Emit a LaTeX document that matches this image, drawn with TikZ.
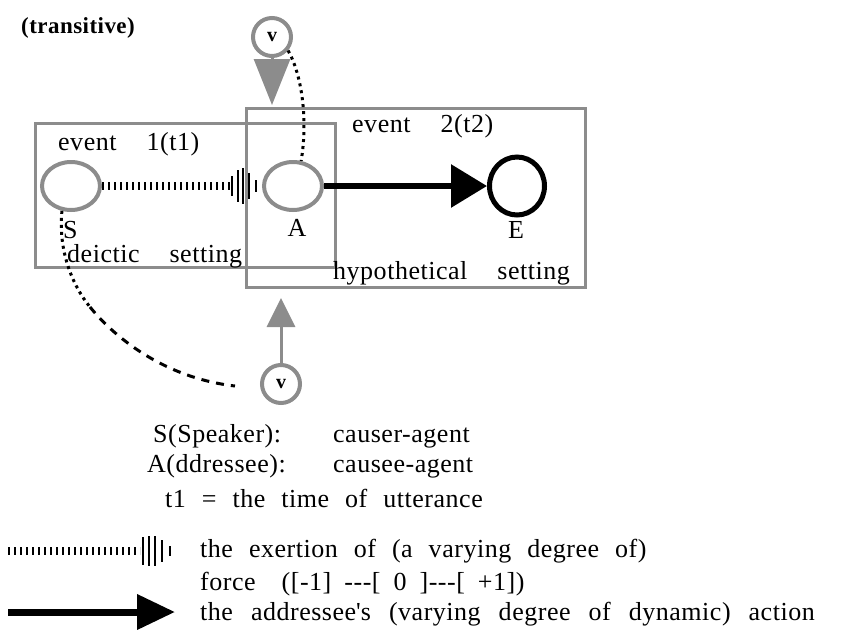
\documentclass[tikz,border=0pt]{standalone}
\usepackage{fontspec}
\setmainfont[LetterSpace=2]{Liberation Serif}
\usepackage{tikz}
\usetikzlibrary{arrows.meta,positioning,shapes.geometric,calc}
\usepackage{xcolor}
\definecolor{screen}{gray}{0.55}
\newcommand{\lblfont}{\fontsize{26}{30}\selectfont\spaceskip 30pt\relax}
\newcommand{\txtfont}{\fontsize{26}{30}\selectfont\spaceskip 16pt\relax}

\begin{document}
\begin{tikzpicture}[x=1pt, y=-1pt,
  lbl/.style={font=\lblfont, inner sep=0pt, anchor=base west},
  txt/.style={font=\txtfont, inner sep=0pt, anchor=base west},
  setting/.style={draw=screen, line width=3pt},
  role/.style={ellipse, draw=screen, line width=4pt, minimum width=58pt, minimum height=48pt},
  goal/.style={ellipse, draw, line width=5pt, minimum width=55pt, minimum height=58pt},
  verb/.style={circle, draw=screen, line width=4pt, minimum size=38pt, inner sep=0pt, font=\fontsize{20}{20}\selectfont\bfseries},
  force/.style={line width=8pt, dash pattern=on 2pt off 4pt},
  bar/.style={line width=2pt},
  action/.style={line width=6pt, -{Triangle[length=36pt,width=42pt]}},
  cue/.style={screen, line width=3pt, -{Triangle[#1]}},
  dotline/.style={line width=3pt, dash pattern=on 3pt off 4pt},
  dashline/.style={line width=3pt, dash pattern=on 8pt off 7pt},
]
\useasboundingbox (0,0) rectangle (845,629);

% Title
\node[txt, font=\fontsize{23}{27}\selectfont\bfseries] (title) at (21,33) {(transitive)};

% Settings
\draw[setting] (35,123) rectangle (335,267);
\draw[setting] (246,108) rectangle (585,287);
\node[lbl] (ev1) at (58,150) {event 1(t1)};
\node[lbl] (ev2) at (352,132) {event 2(t2)};
\node[lbl] (deictic) at (67,262) {deictic setting};
\node[lbl] (hypo) at (333,279) {hypothetical setting};

% Participants
\node[role] (S) at (71,186) {};
\node[role] (A) at (293,186) {};
\node[goal] (E) at (517,186) {};
\node[lbl] (Slbl) at (63,238) {S};
\node[lbl, anchor=base] (Albl) at (297,236) {A};
\node[lbl, anchor=base] (Elbl) at (516,238) {E};

% Force from S to A
\coordinate (fS) at (230,186);
\draw[force] (S.east) -- (fS);
\foreach \dx/\h in {2/20,8/32,13/36,19/26,26/12} {
  \draw[bar] ($(fS)+(\dx,-\h/2)$) -- ++(0,\h);
}

% Action of A
\draw[action] (A.east) -- (E.west);

% Verbs
\node[verb] (vtop) at (272,37) {v};
\node[verb] (vbot) at (281,384) {v};
\coordinate (vtopend) at (272,105);
\coordinate (vbotend) at (281,298);
\draw[cue={length=46pt,width=36pt}] (vtop.south) -- (vtopend);
\draw[cue={length=29pt,width=28pt}] (vbot.north) -- (vbotend);
\draw[dotline] (vtop.-40) .. controls (302,75) and (308,120) .. (A.72);
\coordinate (smid) at (90,307);
\coordinate (send) at (235,386);
\draw[dotline] (S.250) .. controls (58,250) and (72,285) .. (smid);
\draw[dashline] (smid) .. controls (115,338) and (165,378) .. (send);

% Roles
\node[txt] (spk) at (153,442) {S(Speaker):};
\node[txt] (spkr) at (333,442) {causer-agent};
\node[txt] (adr) at (147,472) {A(ddressee):};
\node[txt] (adrr) at (333,472) {causee-agent};
\node[txt] (time) at (165,507) {t1 = the time of utterance};

% Legend
\coordinate (lf0) at (8,551);
\coordinate (lf1) at (140,551);
\draw[force] (lf0) -- (lf1);
\foreach \dx/\h in {3/28,9/30,15/30,22/22,30/10} {
  \draw[bar] ($(lf1)+(\dx,-\h/2)$) -- ++(0,\h);
}
\node[txt] (lforce1) at (200,557) {the exertion of (a varying degree of)};
\node[txt] (lforce2) at (200,590) {\spaceskip 13pt force\ \ ([-1] -{}-{}-[ 0 ]-{}-{}-[ +1])};
\coordinate (la0) at (8,612);
\coordinate (la1) at (175,612);
\draw[line width=7pt, -{Triangle[length=38pt,width=34pt]}] (la0) -- (la1);
\node[txt] (lact) at (200,620) {\spaceskip 18pt the addressee\textquotesingle s (varying degree of dynamic) action};
\end{tikzpicture}
\end{document}
